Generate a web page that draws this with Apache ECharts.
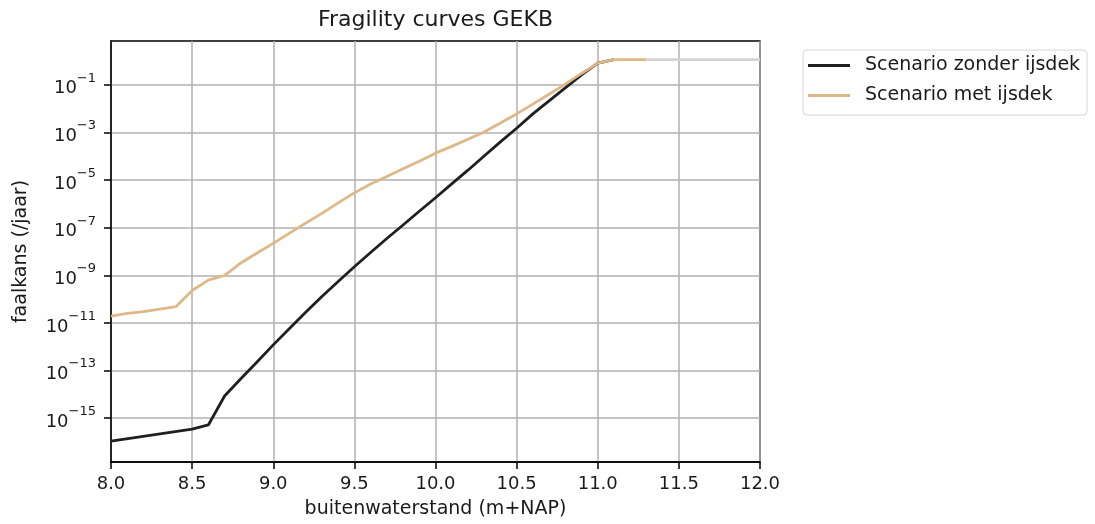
<!DOCTYPE html>
<html>
<head>
<meta charset="utf-8">
<script src="https://cdn.jsdelivr.net/npm/echarts@6/dist/echarts.min.js"></script>
<style>
  html, body { margin: 0; padding: 0; background: #ffffff; }
  #chart { width: 1095px; height: 524px; }
</style>
</head>
<body>
<div id="chart"></div>
<script>
// Outer water level (m+NAP) and annual failure probability per scenario
const waterstandZonder = [8.0, 8.5, 8.6, 8.7, 8.8, 8.9, 9.0, 9.1, 9.2, 9.3, 9.4, 9.5, 9.6, 9.7, 9.8, 9.9,
  10.0, 10.1, 10.2, 10.3, 10.4, 10.5, 10.6, 10.7, 10.8, 10.9, 11.0, 11.1];
const faalkansZonder = [1.1e-16, 3.5e-16, 5.2e-16, 8.5e-15, 4.5e-14, 2.3e-13, 1.2e-12, 5.9e-12, 2.8e-11,
  1.3e-10, 5.5e-10, 2.3e-9, 9.1e-9, 3.5e-8, 1.3e-7, 4.9e-7, 1.8e-6, 6.9e-6, 2.6e-5, 1.02e-4, 4.0e-4,
  1.5e-3, 6.0e-3, 2.1e-2, 7.4e-2, 0.26, 0.81, 1.15];

const waterstandMet = [8.0, 8.1, 8.2, 8.3, 8.4, 8.5, 8.6, 8.7, 8.8, 8.9, 9.0, 9.1, 9.2, 9.3, 9.4, 9.5, 9.6,
  9.7, 9.8, 9.9, 10.0, 10.1, 10.2, 10.3, 10.4, 10.5, 10.6, 10.7, 10.8, 10.9, 11.0, 11.1, 11.2, 11.3];
const faalkansMet = [1.95e-11, 2.5e-11, 3.0e-11, 3.8e-11, 4.8e-11, 2.3e-10, 6.3e-10, 9.8e-10, 3.3e-9, 8.7e-9,
  2.2e-8, 5.9e-8, 1.55e-7, 4.0e-7, 1.1e-6, 2.9e-6, 6.8e-6, 1.42e-5, 3.0e-5, 6.2e-5, 1.35e-4, 2.6e-4,
  5.2e-4, 1.05e-3, 2.5e-3, 6.0e-3, 1.55e-2, 4.0e-2, 0.107, 0.30, 0.81, 1.15, 1.15, 1.15];

// Upper plateau beyond the last computed level
const waterstandPlateau = [11.3, 12.0];
const faalkansPlateau = [1.15, 1.15];

const xTicks = [8.0, 8.5, 9.0, 9.5, 10.0, 10.5, 11.0, 11.5, 12.0];
const yTickExponents = [-15, -13, -11, -9, -7, -5, -3, -1];

const seriesNames = ['Scenario zonder ijsdek', 'Scenario met ijsdek'];
const titleText = 'Fragility curves GEKB';
const xLabel = 'buitenwaterstand (m+NAP)';
const yLabel = 'faalkans (/jaar)';

const FONT = 'DejaVu Sans';
const TEXT = '#1a1a1a';
const pairs = (xs, ys) => xs.map((x, i) => [x, ys[i]]);
const yTickValues = yTickExponents.map(e => Math.pow(10, e));

const chart = echarts.init(document.getElementById('chart'), null, { renderer: 'canvas' });

chart.setOption({
  animation: false,
  backgroundColor: '#ffffff',
  textStyle: { fontFamily: FONT },
  title: {
    text: titleText,
    left: 435.5,
    top: 9,
    padding: 0,
    textAlign: 'center',
    textStyle: { fontFamily: FONT, fontSize: 22, fontWeight: 'normal', color: TEXT }
  },
  legend: {
    orient: 'vertical',
    left: 803,
    top: 50,
    padding: [6, 7, 10, 5],
    icon: 'rect',
    itemWidth: 42,
    itemHeight: 3,
    itemGap: 11,
    borderColor: '#d6d6d6',
    borderWidth: 1,
    borderRadius: 4,
    backgroundColor: '#ffffff',
    data: seriesNames,
    textStyle: { fontFamily: FONT, fontSize: 19, color: TEXT, lineHeight: 19, padding: [0, 0, 0, 10] }
  },
  grid: {
    left: 111,
    right: 335,
    top: 41,
    bottom: 61,
    show: true,
    borderColor: '#000000',
    borderWidth: 1.5,
    backgroundColor: 'transparent'
  },
  xAxis: {
    type: 'value',
    min: xTicks[0],
    max: xTicks[xTicks.length - 1],
    interval: 0.5,
    name: xLabel,
    nameLocation: 'middle',
    nameGap: 38,
    nameTextStyle: { fontFamily: FONT, fontSize: 19, color: TEXT },
    axisLine: { show: true, lineStyle: { color: '#000000', width: 1.5 } },
    axisTick: { show: true, inside: false, length: 7, lineStyle: { color: '#000000', width: 1.5 } },
    axisLabel: {
      margin: 13,
      fontFamily: FONT, fontSize: 18, color: TEXT,
      formatter: v => v.toFixed(1)
    },
    splitLine: { show: true, lineStyle: { color: '#b0b0b0', width: 1.5 } }
  },
  yAxis: {
    type: 'log',
    logBase: 10,
    min: Math.pow(10, -16.84),
    max: Math.pow(10, 0.84),
    name: yLabel,
    nameLocation: 'middle',
    nameGap: 80,
    nameTextStyle: { fontFamily: FONT, fontSize: 19, color: TEXT },
    axisLine: { show: true, lineStyle: { color: '#000000', width: 1.5 } },
    axisTick: {
      show: true, inside: false, length: 7,
      customValues: yTickValues,
      lineStyle: { color: '#000000', width: 1.5 }
    },
    axisLabel: {
      margin: 15,
      customValues: yTickValues,
      formatter: v => {
        const e = Math.round(Math.log10(v));
        return '{b|10}{s|' + (e < 0 ? '\u2212' : '') + Math.abs(e) + '}';
      },
      rich: {
        b: { fontFamily: FONT, fontSize: 18, color: TEXT, lineHeight: 26, verticalAlign: 'bottom' },
        s: { fontFamily: FONT, fontSize: 13, color: TEXT, lineHeight: 26, verticalAlign: 'top' }
      }
    },
    splitLine: { show: true, lineStyle: { color: '#b0b0b0', width: 1.5 } },
    minorTick: { show: false },
    minorSplitLine: { show: false }
  },
  series: [
    {
      name: seriesNames[0],
      type: 'line',
      data: pairs(waterstandZonder, faalkansZonder),
      symbol: 'none',
      lineStyle: { color: '#1f1f1f', width: 2.8 },
      itemStyle: { color: '#1f1f1f' },
      z: 3
    },
    {
      name: seriesNames[1],
      type: 'line',
      data: pairs(waterstandMet, faalkansMet),
      symbol: 'none',
      lineStyle: { color: '#deb887', width: 2.8 },
      itemStyle: { color: '#deb887' },
      z: 4
    },
    {
      name: 'plateau',
      type: 'line',
      data: pairs(waterstandPlateau, faalkansPlateau),
      symbol: 'none',
      lineStyle: { color: '#d3d3d3', width: 2.8 },
      itemStyle: { color: '#d3d3d3' },
      z: 5
    }
  ]
});
</script>
</body>
</html>
